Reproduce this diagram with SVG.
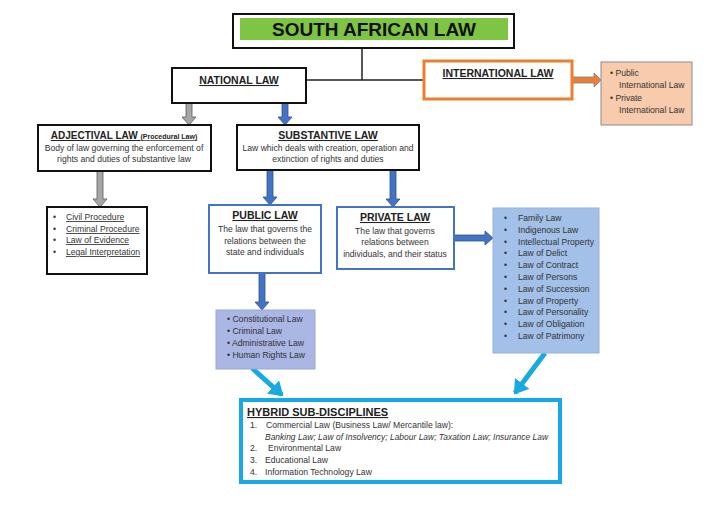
<svg xmlns="http://www.w3.org/2000/svg" width="720" height="509" viewBox="0 0 720 509">
<style>
text{font-family:"Liberation Sans Narrow","Liberation Sans",Arial,sans-serif;fill:#222}
.h{font-weight:bold;text-decoration:underline;font-size:10.5px}
.b{font-size:8.6px;fill:#333}
.u{text-decoration:underline}
.box{fill:#fff;stroke:#111;stroke-width:2}
.bbox{fill:#fff;stroke:#4472c4;stroke-width:2}
.barrow{fill:#4472c4;stroke:#2f528f;stroke-width:0.8}
.garrow{fill:#a6a6a6;stroke:#595959;stroke-width:0.8}
.line{stroke:#222;stroke-width:1.5;fill:none}
.cy{stroke:#19a9e2;stroke-width:5;fill:none}
</style>
<defs>
<marker id="cyh" markerUnits="userSpaceOnUse" markerWidth="20" markerHeight="20" refX="12" refY="9" orient="auto">
<path d="M0,0 L14,9 L0,18 Z" fill="#19a9e2"/>
</marker>
</defs>
<rect width="720" height="509" fill="#fff"/>

<g id="connectors">
<path class="line" d="M362,48 V80 M306,80 H424"/>
<path class="garrow" d="M186,103 H192 V117 H196 L189,125 L182,117 H186 Z"/>
<path class="barrow" d="M282,103 H288 V117 H292 L285,125 L278,117 H282 Z"/>
<path class="garrow" d="M97,171 H103 V199 H107 L100,207 L93,199 H97 Z"/>
<path class="barrow" d="M267,170 H273 V197 H277 L270,205 L263,197 H267 Z"/>
<path class="barrow" d="M390,170 H396 V199 H400 L393,207 L386,199 H390 Z"/>
<path class="barrow" d="M259,273 H265 V302 H269 L262,310 L255,302 H259 Z"/>
<path class="barrow" d="M454,235 H485 V231 L493,238 L485,245 V241 H454 Z"/>
<path d="M572,77 H594 V73 L601,80 L594,87 V83 H572 Z" fill="#ed7d31" stroke="#7f7f7f" stroke-width="0.8"/>
<path class="cy" d="M252,368 L282,395" marker-end="url(#cyh)"/>
<path class="cy" d="M545,353 L515,393" marker-end="url(#cyh)"/>
</g>

<g id="title">
<rect x="233" y="14" width="281" height="34" fill="#fff" stroke="#111" stroke-width="2"/>
<rect x="240" y="18" width="268" height="22" fill="#7ec544"/>
<text x="374" y="36" text-anchor="middle" style="font-family:'Liberation Sans',Arial,sans-serif;font-weight:bold;font-size:19px;fill:#111">SOUTH AFRICAN LAW</text>
</g>

<g id="national">
<rect class="box" x="172" y="68" width="134" height="35"/>
<text class="h" x="239" y="84" text-anchor="middle">NATIONAL LAW</text>
</g>

<g id="international">
<rect x="424" y="61" width="148" height="38" fill="#fff" stroke="#ed7d31" stroke-width="3"/>
<text class="h" x="498" y="77" text-anchor="middle">INTERNATIONAL LAW</text>
</g>

<g id="intl-list">
<rect x="601" y="62" width="91" height="63" fill="#f8cbad" stroke="#8c8c8c" stroke-width="1"/>
<text class="b" x="610" y="76">•  Public</text>
<text class="b" x="619" y="88">International Law</text>
<text class="b" x="610" y="101">•  Private</text>
<text class="b" x="619" y="113">International Law</text>
</g>

<g id="adjectival">
<rect class="box" x="38" y="125" width="173" height="46"/>
<text x="124" y="139" text-anchor="middle" style="font-weight:bold;text-decoration:underline;font-size:10px">ADJECTIVAL LAW <tspan style="font-size:7px">(Procedural Law)</tspan></text>
<text class="b" x="124" y="151" text-anchor="middle">Body of law governing the enforcement of</text>
<text class="b" x="124" y="162" text-anchor="middle">rights and duties of substantive law</text>
</g>

<g id="substantive">
<rect class="box" x="237" y="125" width="182" height="45"/>
<text class="h" x="328" y="139" text-anchor="middle">SUBSTANTIVE LAW</text>
<text class="b" x="328" y="151" text-anchor="middle">Law which deals with creation, operation and</text>
<text class="b" x="328" y="162" text-anchor="middle">extinction of rights and duties</text>
</g>

<g id="procedure-list">
<rect x="47" y="207" width="100" height="67" fill="#fff" stroke="#111" stroke-width="2"/>
<text class="b" x="53" y="220">•</text><text class="b u" x="66" y="220">Civil Procedure</text>
<text class="b" x="53" y="232">•</text><text class="b u" x="66" y="232">Criminal Procedure</text>
<text class="b" x="53" y="243">•</text><text class="b u" x="66" y="243">Law of Evidence</text>
<text class="b" x="53" y="255">•</text><text class="b u" x="66" y="255">Legal Interpretation</text>
</g>

<g id="public">
<rect class="bbox" x="209" y="205" width="112" height="68"/>
<text class="h" x="265" y="219" text-anchor="middle">PUBLIC LAW</text>
<text class="b" x="265" y="232" text-anchor="middle">The law that governs the</text>
<text class="b" x="265" y="244" text-anchor="middle">relations between the</text>
<text class="b" x="265" y="255" text-anchor="middle">state and individuals</text>
</g>

<g id="private">
<rect class="bbox" x="337" y="207" width="117" height="62"/>
<text class="h" x="395" y="221" text-anchor="middle">PRIVATE LAW</text>
<text class="b" x="395" y="234" text-anchor="middle">The law that governs</text>
<text class="b" x="395" y="245" text-anchor="middle">relations between</text>
<text class="b" x="395" y="257" text-anchor="middle">individuals, and their status</text>
</g>

<g id="public-list">
<rect x="216" y="310" width="99" height="59" fill="#aab6e3" stroke="#9aa6d3" stroke-width="1"/>
<text class="b" x="227" y="322">• Constitutional Law</text>
<text class="b" x="227" y="334">• Criminal Law</text>
<text class="b" x="227" y="346">• Administrative Law</text>
<text class="b" x="227" y="358">• Human Rights Law</text>
</g>

<g id="private-list">
<rect x="493" y="208" width="106" height="145" fill="#a2c0e8" stroke="#93b1d9" stroke-width="1"/>
<text class="b" x="504" y="221">•</text><text class="b" x="518" y="221">Family Law</text>
<text class="b" x="504" y="233">•</text><text class="b" x="518" y="233">Indigenous Law</text>
<text class="b" x="504" y="245">•</text><text class="b" x="518" y="245">Intellectual Property</text>
<text class="b" x="504" y="256">•</text><text class="b" x="518" y="256">Law of Delict</text>
<text class="b" x="504" y="268">•</text><text class="b" x="518" y="268">Law of Contract</text>
<text class="b" x="504" y="280">•</text><text class="b" x="518" y="280">Law of Persons</text>
<text class="b" x="504" y="292">•</text><text class="b" x="518" y="292">Law of Succession</text>
<text class="b" x="504" y="304">•</text><text class="b" x="518" y="304">Law of Property</text>
<text class="b" x="504" y="315">•</text><text class="b" x="518" y="315">Law of Personality</text>
<text class="b" x="504" y="327">•</text><text class="b" x="518" y="327">Law of Obligation</text>
<text class="b" x="504" y="339">•</text><text class="b" x="518" y="339">Law of Patrimony</text>
</g>

<g id="hybrid">
<rect x="241" y="400" width="319" height="82" fill="#fff" stroke="#19a9e2" stroke-width="4"/>
<text x="247" y="416" style="font-weight:bold;text-decoration:underline;font-size:11px">HYBRID SUB-DISCIPLINES</text>
<text class="b" x="250" y="428">1.</text><text class="b" x="266" y="428">Commercial Law (Business Law/ Mercantile law):</text>
<text class="b" x="265" y="440" font-style="italic" textLength="283" lengthAdjust="spacingAndGlyphs">Banking Law; Law of Insolvency; Labour Law; Taxation Law; Insurance Law</text>
<text class="b" x="250" y="451">2.</text><text class="b" x="268" y="451">Environmental Law</text>
<text class="b" x="250" y="463">3.</text><text class="b" x="265" y="463">Educational Law</text>
<text class="b" x="250" y="475">4.</text><text class="b" x="265" y="475">Information Technology Law</text>
</g>
</svg>
